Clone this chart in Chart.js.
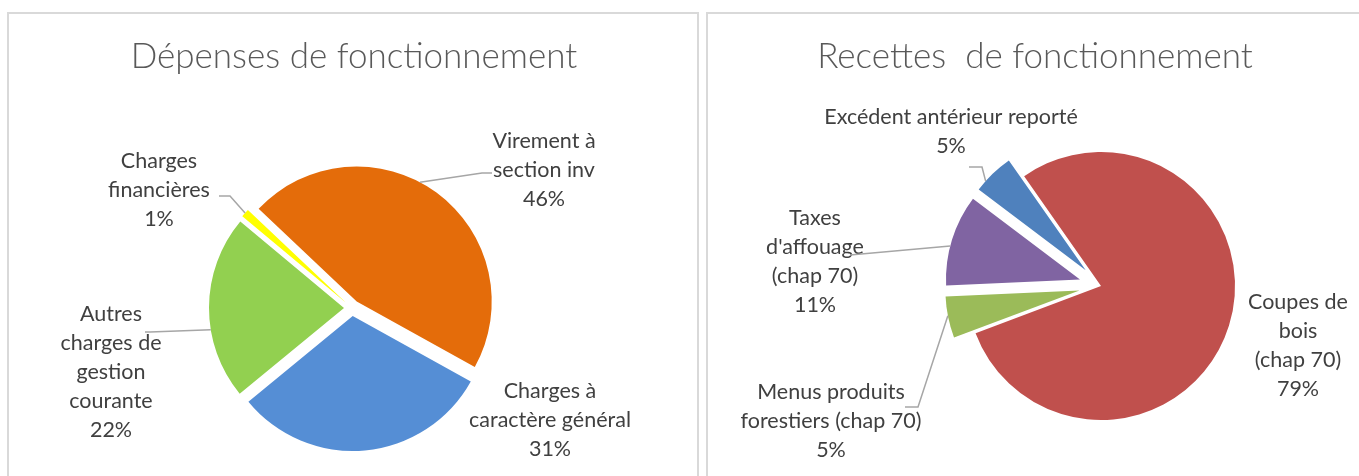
<!DOCTYPE html>
<html lang="fr">
<head>
<meta charset="utf-8">
<title>Dépenses et recettes de fonctionnement</title>
<script src="https://cdn.jsdelivr.net/npm/chart.js@4.4.1/dist/chart.umd.min.js"></script>
<style>
  html, body { margin: 0; padding: 0; background: #fff; }
  body { width: 1359px; height: 476px; position: relative; overflow: hidden; }
  .frame { position: absolute; border: 2px solid #d9d9d9; box-sizing: border-box; }
  #frameDep { left: 7px; top: 12px; width: 692px; height: 480px; }
  #frameRec { left: 706px; top: 12px; width: 670px; height: 480px; }
  canvas { position: absolute; top: 0; }
  #chartDep { left: 0; }
  #chartRec { left: 700px; }
</style>
</head>
<body>
<div class="frame" id="frameDep"></div>
<div class="frame" id="frameRec"></div>
<canvas id="chartDep" width="700" height="476"></canvas>
<canvas id="chartRec" width="659" height="476"></canvas>
<script>
// Dépenses de fonctionnement (%)
const depLabels = [['Charges à', 'caractère général'], ['Autres', 'charges de', 'gestion', 'courante'], ['Charges', 'financières'], ['Virement à', 'section inv']];
const depValues = [31, 22, 1, 46];
const depColors = ['#558ED5', '#92D050', '#FFFF00', '#E46C0A'];

// Recettes de fonctionnement (%)
const recLabels = [['Coupes de', 'bois', '(chap 70)'], ['Menus produits', 'forestiers (chap 70)'], ['Taxes', "d'affouage", '(chap 70)'], ['Excédent antérieur reporté']];
const recValues = [79, 5, 11, 5];
const recColors = ['#C0504D', '#9BBB59', '#8064A2', '#4F81BD'];

// explode slices, title, data labels and leader lines (Excel look)
const pieDecor = {
    id: 'pieDecor',
    afterDatasetUpdate(chart, args, opts) {
        const meta = chart.getDatasetMeta(args.index);
        meta.data.forEach((arc, i) => {
            const d = opts.explode[i] || 0;
            const mid = (arc.startAngle + arc.endAngle) / 2;
            arc.x += Math.cos(mid) * d;
            arc.y += Math.sin(mid) * d;
        });
    },
    afterDraw(chart, args, opts) {
        const ctx = chart.ctx;
        const meta = chart.getDatasetMeta(0);
        const values = chart.data.datasets[0].data;
        const total = values.reduce((a, b) => a + b, 0);
        ctx.save();
        ctx.textAlign = 'center';
        ctx.textBaseline = 'middle';
        ctx.fillStyle = '#595959';
        ctx.font = '300 35px Lato';
        ctx.fillText(opts.title, opts.titleX, opts.titleY);

        ctx.font = '21.5px Lato';
        opts.labels.forEach((lab, i) => {
            const arc = meta.data[i];
            const lines = [].concat(chart.data.labels[i], Math.round(values[i] / total * 100) + '%');
            ctx.fillStyle = '#404040';
            lines.forEach((s, k) => ctx.fillText(s, lab.x, lab.y + k * 29));
            if (lab.leader) {
                const a = arc.startAngle + (arc.endAngle - arc.startAngle) * lab.leader.t;
                const ex = arc.x + Math.cos(a) * arc.outerRadius;
                const ey = arc.y + Math.sin(a) * arc.outerRadius;
                ctx.strokeStyle = '#a6a6a6';
                ctx.lineWidth = 1.5;
                ctx.beginPath();
                lab.leader.from.forEach((p, k) => k ? ctx.lineTo(p[0], p[1]) : ctx.moveTo(p[0], p[1]));
                ctx.lineTo(ex, ey);
                ctx.stroke();
            }
        });
        ctx.restore();
    }
};

function makePie(id, labels, values, colors, rotation, radius, padding, decor) {
    return new Chart(document.getElementById(id), {
        type: 'pie',
        data: {
            labels: labels,
            datasets: [{
                data: values,
                backgroundColor: colors,
                borderWidth: 0
            }]
        },
        options: {
            responsive: false,
            animation: false,
            events: [],
            rotation: rotation,
            radius: radius,
            layout: { padding: padding },
            plugins: {
                legend: { display: false },
                tooltip: { enabled: false },
                pieDecor: decor
            }
        },
        plugins: [pieDecor]
    });
}

makePie('chartDep', depLabels, depValues, depColors, 119, 135,
    { left: 4, right: 0, top: 140, bottom: 0 },
    {
        title: 'Dépenses de fonctionnement', titleX: 354, titleY: 57,
        explode: [8, 8, 8, 8],
        labels: [
            { x: 550, y: 391 },
            { x: 111, y: 314, leader: { from: [[145, 332], [150, 332]], t: 0.38 } },
            { x: 159, y: 161, leader: { from: [[219, 196], [230, 196]], t: 0.5 } },
            { x: 544, y: 141, leader: { from: [[492, 173], [482, 173]], t: 0.45 } }
        ]
    });

makePie('chartRec', recLabels, recValues, recColors, -35, 134,
    { left: 143, right: 0, top: 96, bottom: 0 },
    {
        title: 'Recettes  de fonctionnement', titleX: 335, titleY: 57,
        explode: [0, 22, 22, 22],
        labels: [
            { x: 598, y: 302 },
            { x: 131, y: 392, leader: { from: [[205, 407], [218, 407]], t: 0.54 } },
            { x: 115, y: 218, leader: { from: [[150, 255]], t: 0.43 } },
            { x: 251, y: 117, leader: { from: [[269, 167], [282, 167]], t: 0.26 } }
        ]
    });
</script>
</body>
</html>
